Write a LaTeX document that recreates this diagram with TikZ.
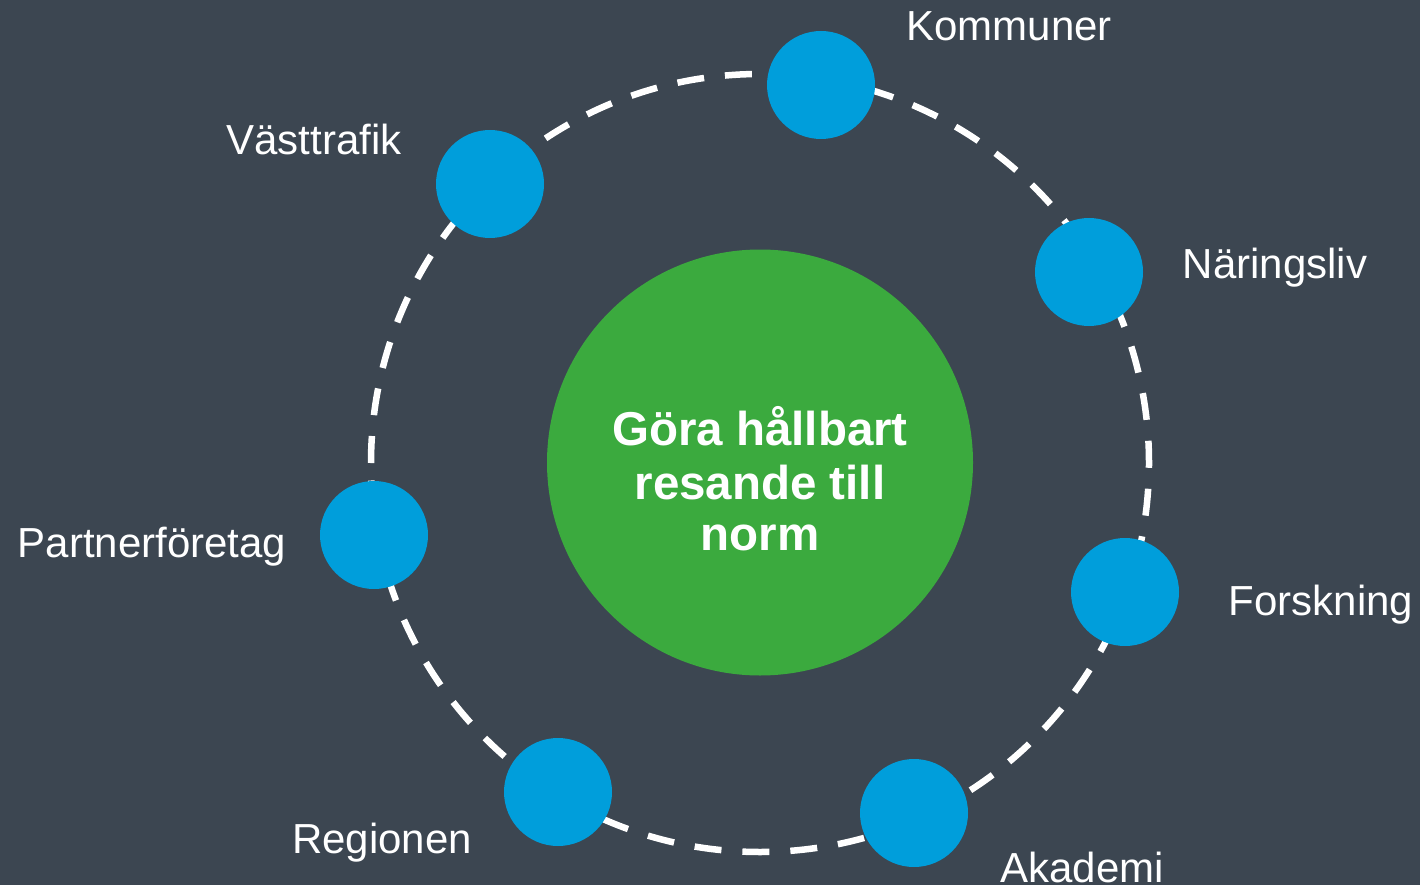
\documentclass[tikz,border=0pt]{standalone}
\usepackage{fontspec}
\setmainfont{Liberation Sans}
\definecolor{bgc}{RGB}{60,70,81}
\definecolor{bluec}{RGB}{0,158,219}
\definecolor{greenc}{RGB}{59,170,62}
\begin{document}
\begin{tikzpicture}[x=1pt,y=-1pt,
  member/.style={circle,fill=bluec,minimum size=108pt,inner sep=0pt},
  core/.style={circle,fill=greenc,minimum size=426pt,inner sep=0pt},
  lbl/.style={text=white,font=\fontsize{42}{48}\selectfont,inner sep=0pt,anchor=base},
  coretext/.style={text=white,font=\bfseries\fontsize{47.5}{52}\selectfont,inner sep=0pt,anchor=base},
  ring/.style={white,line width=6.5pt,dash pattern=on 27pt off 21pt}]
\fill[bgc] (0,0) rectangle (1420,885);
\useasboundingbox (0,0) rectangle (1420,885);
\coordinate (ctr) at (760,463);
\draw[ring] (ctr) ++(-389,0) arc[start angle=180,end angle=-180,radius=389pt];
\node[core] (goal) at (760,462.5) {};
\node[coretext] (g1) at (760,445) {Göra hållbart};
\node[coretext] (g2) at (760,499) {resande till};
\node[coretext] (g3) at (760,550) {norm};
\node[member] (kom) at (821,85) {};
\node[member] (vast) at (490,184) {};
\node[member] (nar) at (1089,272) {};
\node[member] (part) at (374,535) {};
\node[member] (fors) at (1125,592) {};
\node[member] (reg) at (558,792) {};
\node[member] (aka) at (914,813) {};
\node[lbl] (lkom) at (1009,41) {Kommuner};
\node[lbl] (lvast) at (314,155) {Västtrafik};
\node[lbl] (lnar) at (1275,278) {Näringsliv};
\node[lbl] (lpart) at (152,557) {Partnerföretag};
\node[lbl] (lfors) at (1321,615) {Forskning};
\node[lbl] (lreg) at (382,853) {Regionen};
\node[lbl] (laka) at (1082,882) {Akademi};
\end{tikzpicture}
\end{document}
